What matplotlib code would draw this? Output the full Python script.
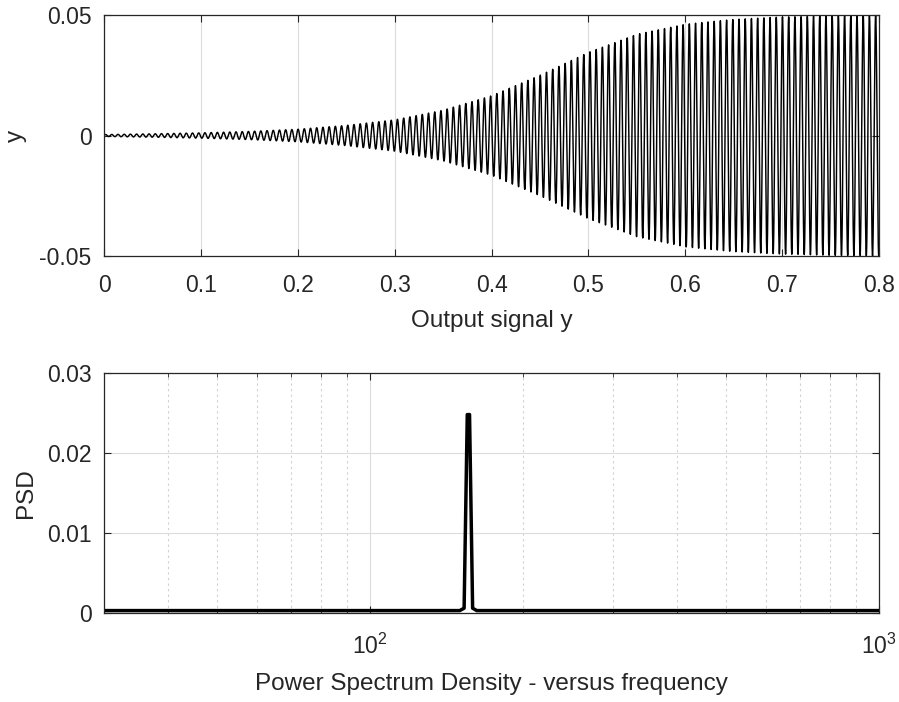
import numpy as np
import matplotlib
matplotlib.use("Agg")
import matplotlib.pyplot as plt
from matplotlib.ticker import LogLocator, NullFormatter

plt.rcParams["font.family"] = ["Liberation Sans", "DejaVu Sans"]
plt.rcParams["mathtext.fontset"] = "custom"
plt.rcParams["mathtext.rm"] = "Liberation Sans"
plt.rcParams["mathtext.it"] = "Liberation Sans"

TXT = "#262626"

# --- top panel: output signal envelope ---
env_t = [0.0, 0.05, 0.1, 0.15, 0.2, 0.25, 0.3, 0.35, 0.4, 0.45, 0.5, 0.55, 0.6, 0.65, 0.7, 0.75, 0.8]
env_amp = [0.0004, 0.0007, 0.0011, 0.0017, 0.0026, 0.0042, 0.0065, 0.0105, 0.0165,
           0.0250, 0.0345, 0.0420, 0.0462, 0.0482, 0.0492, 0.0497, 0.0500]
carrier_hz = 156.0      # read from PSD peak
sample_rate = 10000.0

# --- bottom panel: PSD ---
psd_freq = [30, 60, 100, 150, 153, 155.2, 156.8, 159, 162, 250, 500, 1000]
psd_val = [0.0003, 0.0003, 0.0003, 0.0003, 0.0006, 0.0248, 0.0248, 0.0006, 0.0003, 0.0003, 0.0003, 0.0003]

t = np.arange(0, 0.8 + 1 / sample_rate, 1 / sample_rate)
y = np.interp(t, env_t, env_amp) * np.sin(2 * np.pi * carrier_hz * t)

fig = plt.figure(figsize=(8.99, 7.02), dpi=100)
ax1 = fig.add_axes([0.1157, 0.6353, 0.8621, 0.3433])
ax2 = fig.add_axes([0.1157, 0.1268, 0.8621, 0.3419])

TICK_FS = 16.5
LABEL_FS = 17.5


def style(ax):
    for s in ax.spines.values():
        s.set_color(TXT)
        s.set_linewidth(0.9)
    ax.tick_params(which="both", direction="in", top=True, right=True,
                   colors=TXT, labelsize=TICK_FS, labelcolor=TXT)


ax1.plot(t, y, color="black", lw=1.05)
ax1.set_xlim(0, 0.8)
ax1.set_ylim(-0.05, 0.05)
ax1.set_xticks(np.arange(0, 0.81, 0.1))
ax1.set_xticklabels(["0", "0.1", "0.2", "0.3", "0.4", "0.5", "0.6", "0.7", "0.8"])
ax1.set_yticks([-0.05, 0, 0.05])
ax1.set_yticklabels(["-0.05", "0", "0.05"])
ax1.grid(True, color="#dcdcdc", lw=0.8)
ax1.set_axisbelow(True)
style(ax1)
ax1.tick_params(which="major", length=5)
ax1.tick_params(axis="x", pad=13)
ax1.tick_params(axis="y", pad=9)
ax1.set_xlabel("Output signal y", fontsize=LABEL_FS, color=TXT, labelpad=9)
ax1.set_ylabel("y", fontsize=LABEL_FS, color=TXT, labelpad=9)

ax2.plot(psd_freq, psd_val, color="black", lw=2.5)
ax2.set_xscale("log")
ax2.set_xlim(30, 1000)
ax2.set_ylim(0, 0.03)
ax2.set_yticks([0, 0.01, 0.02, 0.03])
ax2.set_yticklabels(["0", "0.01", "0.02", "0.03"])
ax2.xaxis.set_major_locator(LogLocator(base=10, numticks=10))
ax2.xaxis.set_minor_locator(LogLocator(base=10, subs=np.arange(2, 10), numticks=20))
ax2.xaxis.set_minor_formatter(NullFormatter())
ax2.grid(True, which="major", color="#dcdcdc", lw=0.8)
ax2.grid(True, which="minor", axis="x", color="#d0d0d0", lw=0.8, ls=(0, (2, 3)))
ax2.set_axisbelow(True)
style(ax2)
ax2.tick_params(which="major", length=5)
ax2.tick_params(which="minor", length=3)
ax2.tick_params(axis="x", which="major", pad=15)
ax2.tick_params(axis="y", pad=9)
ax2.set_xlabel("Power Spectrum Density - versus frequency", fontsize=LABEL_FS, color=TXT, labelpad=10)
ax2.set_ylabel("PSD", fontsize=LABEL_FS, color=TXT, labelpad=7)

fig.savefig("out.png", dpi=100)
